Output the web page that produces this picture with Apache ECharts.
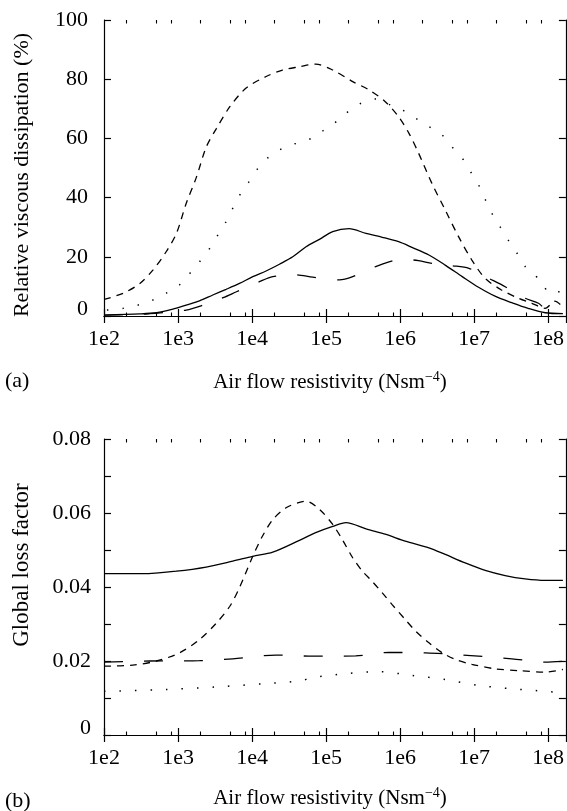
<!DOCTYPE html>
<html>
<head>
<meta charset="utf-8">
<script src="https://cdn.jsdelivr.net/npm/echarts@6/dist/echarts.min.js"></script>
<style>
html,body{margin:0;padding:0;background:#fff;}
#chart{width:567px;height:811px;}
</style>
</head>
<body>
<div id="chart"></div>
<script>
// ---- data (x = log10 of air flow resistivity) ----
const xTickExponents = [2, 3, 4, 5, 6, 7, 8];
const xTickLabels = ['1e2', '1e3', '1e4', '1e5', '1e6', '1e7', '1e8'];
const minorMantissas = [2, 5, 8];

// (a) Relative viscous dissipation (%)
const aShortDashX = [2.00,2.26,2.485,2.66,2.84,2.98,3.11,3.25,3.38,3.52,3.70,3.92,4.19,4.41,4.64,4.86,5.09,5.36,5.58,5.80,5.98,6.12,6.25,6.43,6.61,6.79,6.97,7.15,7.37,7.60,7.78,7.96,8.09,8.20];
const aShortDashY = [5.6,7.7,11,15.5,21.7,28,38,47,57,63.4,70.7,77,80.9,83.1,84.2,85.1,83.1,79.2,76.4,72.4,67.3,61.7,55,44.8,35.8,26.8,18.9,12.7,8.8,6,4.3,2.6,5.0,3.1];

const aDotX = [2.04,2.26,2.46,2.66,2.84,3.02,3.16,3.29,3.43,3.54,3.65,3.74,3.85,3.96,4.08,4.23,4.41,4.59,4.80,4.97,5.11,5.27,5.45,5.67,5.85,6.03,6.21,6.39,6.57,6.70,6.84,6.95,7.06,7.15,7.24,7.35,7.46,7.58,7.69,7.80,7.91,8.00,8.09,8.20];
const aDotY = [2,2.6,3.7,5.4,7.7,10.5,14.4,18.3,22.9,27.4,31.9,36.4,41.5,45.4,49.9,53.8,56.6,58.3,60,62.8,65.1,68.5,71.6,73.3,71.5,69.6,66.8,64,61.1,57.2,53.3,48.8,44.3,39.4,34.7,30.2,25.7,21.2,16.7,13.9,12.2,8.2,8.8,7.1];

const aSolidX = [2.00,2.485,2.71,2.93,3.11,3.29,3.47,3.65,3.83,4.01,4.19,4.37,4.55,4.73,4.91,5.09,5.31,5.54,5.76,5.98,6.16,6.39,6.61,6.84,7.06,7.29,7.51,7.73,7.96,8.20];
const aSolidY = [0.3,0.7,1.1,2.3,3.7,5.1,7.1,9,11,13.3,15.2,17.5,20,23.4,25.9,28.5,29.5,27.9,26.6,25.1,23.2,20.6,17.2,13.3,9.7,6.6,4.5,2.6,1.1,0.8];

const aLongDashX = [2.00,2.35,2.69,3.11,3.34,3.61,3.79,4.10,4.28,4.59,4.82,5.18,5.36,5.67,5.85,6.03,6.25,6.43,6.70,6.93,7.20,7.42,7.69,7.87,8.00,8.18];
const aLongDashY = [0.3,0.5,0.9,2,3.7,6.2,8.2,11.6,13.3,13.9,13.1,12.2,13.3,16.7,18.3,19.2,18.7,17.8,17,16.1,12.7,9.9,6,4.3,1.8,1.8];

// (b) Global loss factor
const bSolidX = [2.00,2.53,2.98,3.38,3.74,4.01,4.28,4.64,4.86,5.09,5.27,5.54,5.81,6.07,6.39,6.61,6.88,7.15,7.42,7.69,7.96,8.20];
const bSolidY = [0.0436,0.0436,0.0443,0.0454,0.0470,0.0483,0.0494,0.0526,0.0547,0.0564,0.0574,0.0557,0.0542,0.0524,0.0506,0.0488,0.0465,0.0445,0.0431,0.0422,0.0418,0.0418];

const bShortDashX = [2.00,2.39,2.71,3.02,3.29,3.52,3.70,3.83,4.01,4.14,4.28,4.46,4.64,4.73,4.91,5.09,5.22,5.36,5.49,5.62,5.76,5.89,6.07,6.21,6.39,6.57,6.75,6.97,7.28,7.60,7.96,8.20];
const bShortDashY = [0.0186,0.0189,0.0200,0.0222,0.0258,0.0303,0.0348,0.0398,0.0483,0.0537,0.0582,0.0614,0.0629,0.0632,0.0610,0.0569,0.0528,0.0479,0.0443,0.0416,0.0384,0.0353,0.0312,0.0281,0.0249,0.0222,0.0204,0.0191,0.0179,0.0174,0.0170,0.0177];

const bLongDashX = [2.00,2.62,3.29,3.74,4.32,4.82,5.40,5.85,6.35,6.85,7.06,7.51,7.96,8.20];
const bLongDashY = [0.0197,0.0200,0.0201,0.0206,0.0216,0.0213,0.0214,0.0223,0.0222,0.0216,0.0213,0.0206,0.0197,0.0199];

const bDotX = [2.00,2.84,3.52,4.19,4.64,4.82,5.27,5.72,6.16,6.61,7.06,7.51,7.96,8.20];
const bDotY = [0.0118,0.0123,0.0130,0.0139,0.0146,0.0155,0.0166,0.0171,0.0161,0.0150,0.0134,0.0125,0.0118,0.0114];

// ---- chart ----
const FONT = '"Liberation Serif", "Times New Roman", serif';
const FS = 22;
const X_MIN = 2, X_MAX = 8.24;
const zip = (xs, ys) => xs.map((x, i) => [x, ys[i]]);

const minorTicks = [];
xTickExponents.forEach(d => minorMantissas.forEach(m => {
  const v = d + Math.log10(m);
  if (v < X_MAX) minorTicks.push([v]);
}));

const chart = echarts.init(document.getElementById('chart'), null, {renderer: 'canvas'});

function xAxes(grid) {
  const common = {
    type: 'value', gridIndex: grid, min: X_MIN, max: X_MAX, interval: 1,
    splitLine: {show: false},
    axisLine: {show: true, lineStyle: {color: '#000', width: 1.2}},
    axisTick: {show: true, inside: true, length: 7, lineStyle: {color: '#000', width: 1.2}}
  };
  return [
    Object.assign({}, common, {
      position: 'bottom',
      axisLabel: {
        show: true, margin: 12, color: '#000', fontFamily: FONT, fontSize: FS,
        showMaxLabel: false,
        formatter: v => {
          const i = xTickExponents.indexOf(Math.round(v * 1000) / 1000);
          return i >= 0 ? xTickLabels[i] : '';
        }
      }
    }),
    Object.assign({}, common, {position: 'top', axisLabel: {show: false}})
  ];
}

function yAxes(grid, min, max, interval, labelFn, margin) {
  const common = {
    type: 'value', gridIndex: grid, min: min, max: max, interval: interval,
    splitLine: {show: false},
    axisLine: {show: true, lineStyle: {color: '#000', width: 1.2}},
    axisTick: {show: true, inside: true, length: 7, lineStyle: {color: '#000', width: 1.2}}
  };
  return [
    Object.assign({}, common, {
      position: 'left',
      axisLabel: {
        show: true, margin: margin, color: '#000', fontFamily: FONT, fontSize: FS,
        formatter: labelFn,
        rich: {z: {fontFamily: FONT, fontSize: FS, color: '#000', padding: [0, 0, 14, 0]}}
      }
    }),
    Object.assign({}, common, {position: 'right', axisLabel: {show: false}})
  ];
}

const xA = xAxes(0).concat(xAxes(1));
const yA = yAxes(0, 0, 100, 20, v => v === 0 ? '{z|0}' : String(v), 16)
  .concat(yAxes(1, 0, 0.08, 0.01, v => {
    const k = Math.round(v * 100);
    if (k === 0) return '{z|0}';
    return k % 2 === 0 ? (k / 100).toFixed(2) : '';
  }, 13));

function line(name, data, grid, dash, width) {
  return {
    name: name, type: 'line', xAxisIndex: grid * 2, yAxisIndex: grid * 2,
    data: data, showSymbol: false, symbol: 'none', smooth: 0.3,
    lineStyle: {color: '#000', width: width || 1.3, type: dash},
    animation: false
  };
}

function minorSeries(grid) {
  return {
    type: 'custom', xAxisIndex: grid * 2, yAxisIndex: grid * 2,
    data: minorTicks, clip: false, silent: true, animation: false,
    renderItem: (params, api) => {
      const cs = params.coordSys;
      const x = Math.round(api.coord([api.value(0), 0])[0]) + 0.5;
      const st = {stroke: '#000', lineWidth: 1.1};
      return {
        type: 'group', children: [
          {type: 'line', shape: {x1: x, y1: cs.y + cs.height, x2: x, y2: cs.y + cs.height - 3.5}, style: st},
          {type: 'line', shape: {x1: x, y1: cs.y, x2: x, y2: cs.y + 3.5}, style: st}
        ]
      };
    }
  };
}

const SHORT = [7, 6], LONG = [19, 21], DOT = [1.5, 14];

const titleRich = {
  a: {fontFamily: FONT, fontSize: 21, fill: '#000'},
  s: {fontFamily: FONT, fontSize: 14, fill: '#000', padding: [0, 0, 10, 0]}
};

chart.setOption({
  animation: false,
  backgroundColor: '#fff',
  grid: [
    {left: 104, top: 20, width: 464, height: 296},
    {left: 104, top: 439, width: 464, height: 296}
  ],
  xAxis: xA,
  yAxis: yA,
  series: [
    line('a-short', zip(aShortDashX, aShortDashY), 0, SHORT),
    line('a-dot', zip(aDotX, aDotY), 0, DOT, 1.5),
    line('a-solid', zip(aSolidX, aSolidY), 0, 'solid'),
    line('a-long', zip(aLongDashX, aLongDashY), 0, LONG),
    line('b-short', zip(bShortDashX, bShortDashY), 1, SHORT),
    line('b-dot', zip(bDotX, bDotY), 1, DOT, 1.5),
    line('b-solid', zip(bSolidX, bSolidY), 1, 'solid'),
    line('b-long', zip(bLongDashX, bLongDashY), 1, LONG),
    minorSeries(0),
    minorSeries(1)
  ],
  graphic: [
    {type: 'text', left: 5, top: 370, style: {text: '(a)', font: FS + 'px ' + FONT, fill: '#000'}},
    {type: 'text', x: 330, y: 382, style: {text: '{a|Air flow resistivity (Nsm}{s|−4}{a|)}', rich: titleRich, align: 'center', verticalAlign: 'middle'}},
    {type: 'text', left: 5, top: 790, style: {text: '(b)', font: FS + 'px ' + FONT, fill: '#000'}},
    {type: 'text', x: 330, y: 798, style: {text: '{a|Air flow resistivity (Nsm}{s|−4}{a|)}', rich: titleRich, align: 'center', verticalAlign: 'middle'}},
    {type: 'text', x: 22, y: 175, rotation: Math.PI / 2, style: {text: 'Relative viscous dissipation (%)', font: FS + 'px ' + FONT, fill: '#000', align: 'center', verticalAlign: 'middle'}},
    {type: 'text', x: 22, y: 565, rotation: Math.PI / 2, style: {text: 'Global loss factor', font: '23px ' + FONT, fill: '#000', align: 'center', verticalAlign: 'middle'}}
  ]
});
</script>
</body>
</html>
